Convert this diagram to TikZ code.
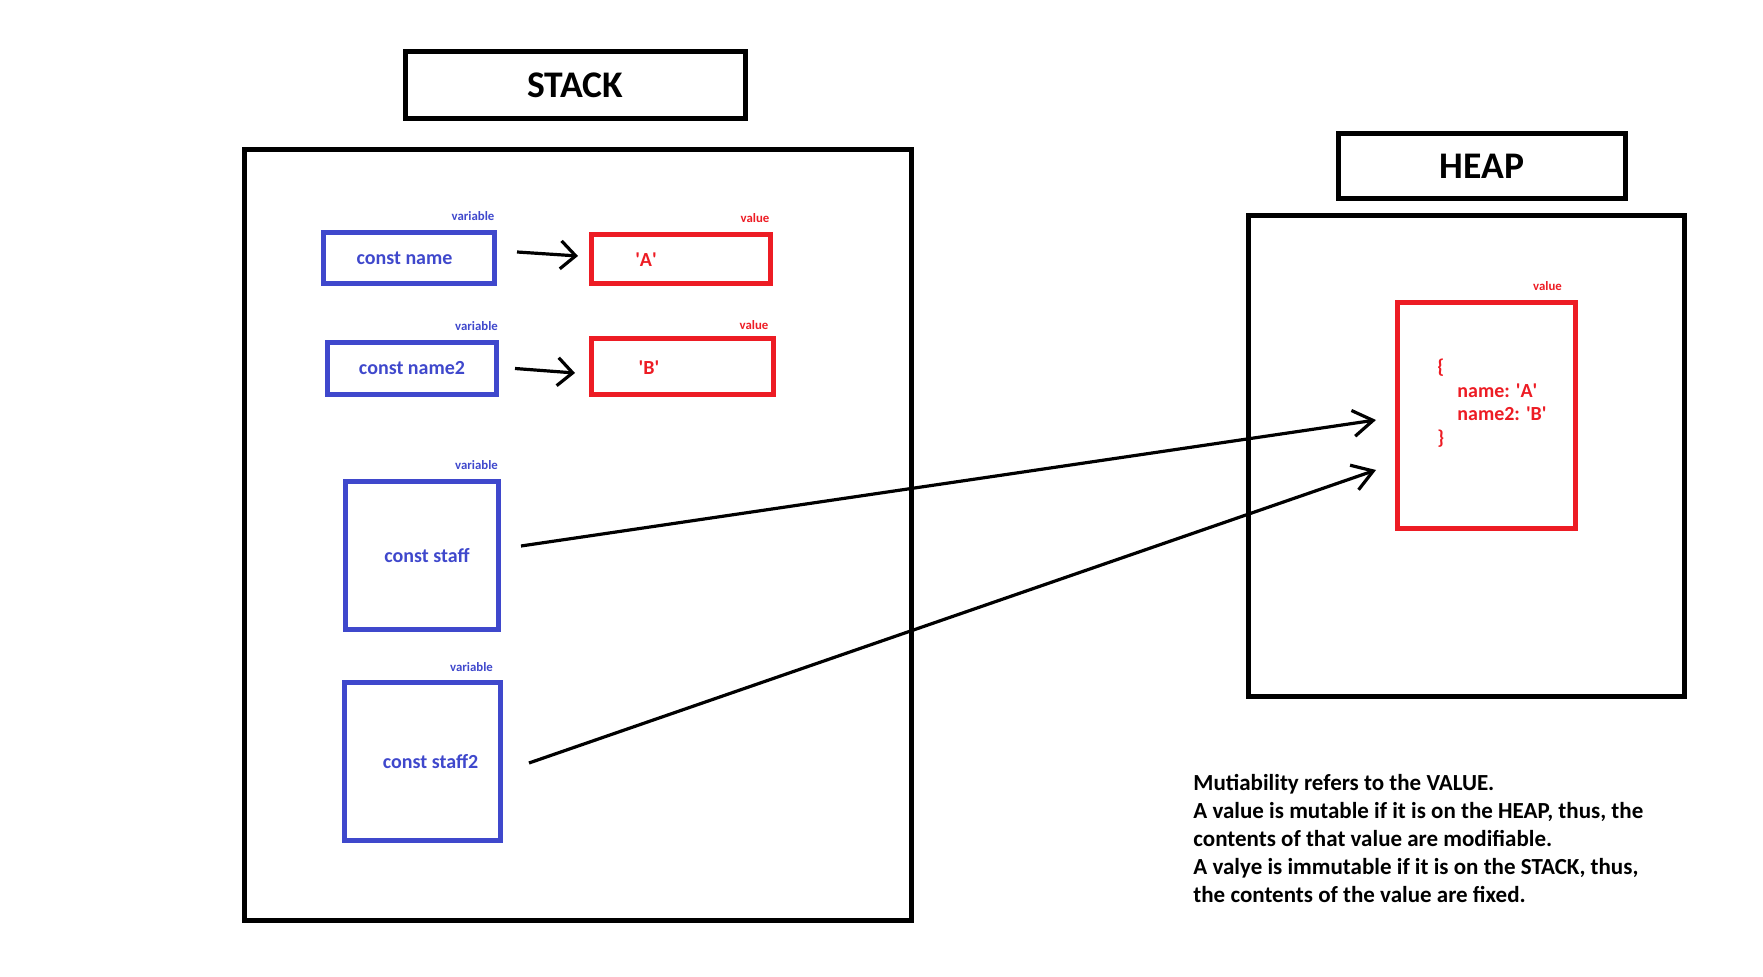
\documentclass[tikz,border=0pt]{standalone}
\usepackage{fontspec}
\setmainfont{Carlito}
\usetikzlibrary{arrows.meta,calc}
\definecolor{varblue}{HTML}{3F48CC}
\definecolor{valred}{HTML}{ED1C24}
\newcommand{\sq}{\textquotesingle}

\begin{document}
\begin{tikzpicture}[x=0.5pt,y=-0.5pt,
            box/.style={draw,line width=2.5pt,inner sep=0pt},
            titlebox/.style={box,font=\fontsize{18.8}{22}\selectfont\bfseries},
            varbox/.style={box,draw=varblue,text=varblue,font=\fontsize{10}{12}\selectfont\bfseries},
            valbox/.style={box,draw=valred},
            valtext/.style={inner sep=0pt,text=valred,font=\fontsize{10}{11.7}\selectfont\bfseries},
            tag/.style={inner sep=0pt,font=\fontsize{6.4}{7}\selectfont\bfseries},
            ptr/.style={line width=1.6pt,-{Straight Barb[length=7.5pt,width=14pt]}},
            farptr/.style={line width=1.6pt,-{Straight Barb[length=10pt,width=13pt]}}]
            \useasboundingbox (0,0) rectangle (1763,977);
            % titles and frames
            \node[titlebox,minimum width=170pt,minimum height=33.5pt] (stacktitle) at (575,85) {\raisebox{-1.5pt}{STACK}};
            \node[titlebox,minimum width=143.5pt,minimum height=32.5pt] (heaptitle) at (1482,166.5) {HEAP};
            \node[box,minimum width=333.5pt,minimum height=385.5pt] (stack) at (578,535) {};
            \node[box,minimum width=218pt,minimum height=240.5pt] (heap) at (1466.5,456) {};
            % variables on the stack
            \node[varbox,minimum width=85.5pt,minimum height=25.5pt] (name) at (409,258) {\hspace*{-4.5pt}const name};
            \node[varbox,minimum width=84.5pt,minimum height=26pt] (name2) at (412,368.5) {const name2};
            \node[varbox,minimum width=76.5pt,minimum height=74pt] (staff) at (422,555.5) {\hspace*{5pt}const staff};
            \node[varbox,minimum width=78pt,minimum height=79pt] (staff2) at (422.5,761.5) {\hspace*{8pt}const staff2};
            \node[tag,text=varblue] (tagname) at (473,216) {variable};
            \node[tag,text=varblue] (tagname2) at (476.5,326) {variable};
            \node[tag,text=varblue] (tagstaff) at (476.5,465) {variable};
            \node[tag,text=varblue] (tagstaff2) at (471.5,667) {variable};
            % values
            \node[valbox,minimum width=89.5pt,minimum height=24.5pt] (valA) at (681,259) {};
            \node[valbox,minimum width=91pt,minimum height=28pt] (valB) at (682.5,366.5) {};
            \node[valbox,minimum width=89pt,minimum height=113pt] (obj) at (1486.5,415.5) {};
            \node[valtext] (txtA) at (646,260) {\sq A\sq};
            \node[valtext] (txtB) at (649,368) {\sq B\sq};
            \node[valtext,align=left,anchor=north west] (txtobj) at (1437,359)
                {\{\\\hspace*{10pt}name: \sq A\sq\\\hspace*{10pt}name2: \sq B\sq\\\}};
            \node[tag,text=valred] (tagA) at (755,218) {value};
            \node[tag,text=valred] (tagB) at (754,325) {value};
            \node[tag,text=valred] (tagobj) at (1547.5,286) {value};
            % pointers
            \draw[ptr] ($(name.east)+(20,-6)$) -- ($(valA.west)+(-11,-3)$);
            \draw[ptr] ($(name2.east)+(16,0)$) -- ($(valB.west)+(-14,6.5)$);
            \draw[farptr] ($(staff.east)+(20,-9.5)$) -- ($(obj.west)+(-19,4.5)$);
            \draw[farptr] ($(staff2.east)+(26,1.5)$) -- ($(obj.west)+(-19,54.5)$);
            % note
            \node[inner sep=0pt,align=left,anchor=north west,font=\fontsize{11.5}{14}\selectfont\bfseries] (note) at (1193,774)
                {Mutiability refers to the VALUE.\\
                A value is mutable if it is on the HEAP, thus, the\\
                contents of that value are modifiable.\\
                A valye is immutable if it is on the STACK, thus,\\
                the contents of the value are fixed.};
          \end{tikzpicture}
\end{document}
